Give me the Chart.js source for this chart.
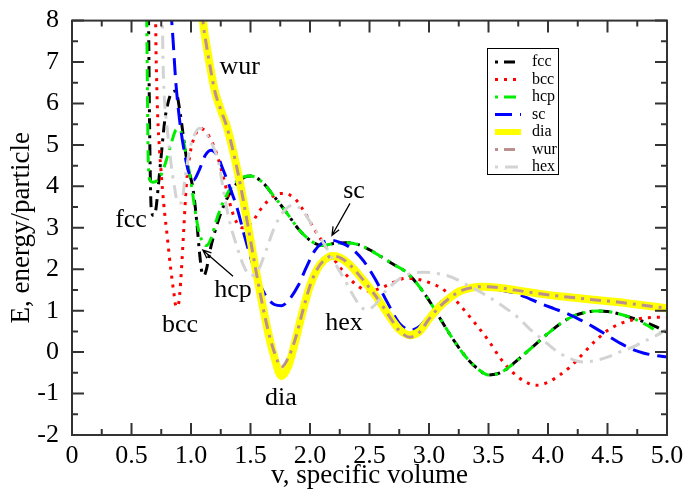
<!DOCTYPE html>
<html>
<head>
<meta charset="utf-8">
<script src="https://cdn.jsdelivr.net/npm/chart.js@4.4.1/dist/chart.umd.min.js"></script>
<style>
  html, body { margin: 0; padding: 0; background: #fff; }
</style>
</head>
<body>
<canvas id="energyChart" width="692" height="491"></canvas>
<script>
// values: v (specific volume) and E (energy/particle)
const vFcc = [0.640, 0.645, 0.650, 0.656, 0.665, 0.685, 0.705, 0.725, 0.75, 0.78, 0.81, 0.84, 0.87, 0.91, 0.95, 0.98, 1.01, 1.03, 1.05, 1.07, 1.09, 1.11, 1.13, 1.16, 1.20, 1.25, 1.31, 1.38, 1.45, 1.50,
              1.6, 1.7, 1.8, 1.9, 2.0, 2.1, 2.2, 2.3, 2.4, 2.5, 2.6, 2.7, 2.8, 2.9, 3.0, 3.1, 3.2, 3.3, 3.4, 3.5, 3.6, 3.7, 3.8, 3.9, 4.0, 4.1, 4.2, 4.3, 4.4, 4.5, 4.6, 4.7, 4.8, 4.9, 5.0];
const eFcc = [9.0, 7.5, 6.0, 4.6, 3.5, 3.3, 3.45, 4.0, 4.75, 5.6, 6.05, 6.27, 6.3, 5.75, 4.9, 4.4, 4.05, 3.65, 3.1, 2.45, 1.95, 1.85, 2.0, 2.45, 2.9, 3.35, 3.75, 4.05, 4.22, 4.25,
              4.1, 3.75, 3.38, 2.98, 2.7, 2.57, 2.62, 2.64, 2.6, 2.47, 2.3, 2.12, 1.95, 1.65, 1.25, 0.78, 0.32, -0.08, -0.38, -0.55, -0.5, -0.3, -0.05, 0.2, 0.45, 0.68, 0.85, 0.95, 0.99, 0.98, 0.92, 0.83, 0.74, 0.62, 0.48];

const vBcc = [0.70, 0.705, 0.712, 0.72, 0.735, 0.75, 0.77, 0.80, 0.83, 0.855, 0.875, 0.89, 0.905, 0.92, 0.94, 0.96, 0.99, 1.03, 1.08, 1.13, 1.18, 1.22, 1.26, 1.30, 1.34, 1.38, 1.43, 1.5, 1.6, 1.7, 1.78, 1.88,
              1.97, 2.05, 2.12, 2.2, 2.3, 2.4, 2.5, 2.6, 2.7, 2.8, 2.9, 3.0, 3.1, 3.2, 3.3, 3.4, 3.5, 3.6, 3.7, 3.8, 3.9, 4.0, 4.1, 4.2, 4.3, 4.4, 4.5, 4.6, 4.7, 4.8, 4.9, 5.0];
const eBcc = [9, 7.5, 6.5, 5.7, 4.9, 4.3, 3.6, 2.8, 2.0, 1.45, 1.1, 1.1, 1.4, 2.0, 3.0, 4.0, 4.75, 5.2, 5.4, 5.3, 5.05, 4.75, 4.35, 3.9, 3.45, 3.15, 3.0, 3.1, 3.5, 3.78, 3.83, 3.68,
              3.3, 2.9, 2.6, 2.25, 1.88, 1.6, 1.47, 1.55, 1.68, 1.78, 1.76, 1.68, 1.55, 1.32, 1.0, 0.65, 0.28, -0.15, -0.48, -0.7, -0.8, -0.73, -0.55, -0.32, -0.02, 0.28, 0.52, 0.68, 0.77, 0.82, 0.84, 0.84];

const vHcp = [0.625, 0.63, 0.635, 0.64, 0.655, 0.68, 0.72, 0.76, 0.80, 0.84, 0.88, 0.91, 0.94, 0.97, 1.0, 1.03, 1.06, 1.09, 1.13, 1.17, 1.21, 1.26, 1.31, 1.36, 1.42, 1.5,
              1.6, 1.7, 1.8, 1.9, 2.0, 2.1, 2.2, 2.3, 2.4, 2.5, 2.6, 2.7, 2.8, 2.9, 3.0, 3.1, 3.2, 3.3, 3.4, 3.5, 3.6, 3.7, 3.8, 3.9, 4.0, 4.1, 4.2, 4.3, 4.4, 4.5, 4.6, 4.7, 4.8, 4.9, 5.0];
const eHcp = [9, 7.5, 6.0, 4.7, 4.15, 4.1, 4.15, 4.35, 4.7, 5.1, 5.38, 5.35, 5.05, 4.6, 4.1, 3.5, 3.0, 2.7, 2.57, 2.75, 3.15, 3.55, 3.85, 4.05, 4.2, 4.25,
              4.1, 3.75, 3.38, 2.98, 2.7, 2.57, 2.62, 2.64, 2.6, 2.47, 2.3, 2.12, 1.95, 1.65, 1.25, 0.78, 0.32, -0.08, -0.38, -0.55, -0.5, -0.3, -0.05, 0.2, 0.45, 0.68, 0.85, 0.95, 0.99, 0.98, 0.92, 0.83, 0.7, 0.53, 0.35];

const vSc = [0.83, 0.85, 0.87, 0.90, 0.94, 0.98, 1.02, 1.07, 1.12, 1.17, 1.22, 1.27, 1.33, 1.39, 1.45, 1.51, 1.57, 1.63, 1.70, 1.76, 1.82, 1.90, 1.97, 2.04, 2.10, 2.18, 2.25,
             2.35, 2.45, 2.55, 2.65, 2.75, 2.85, 2.92, 3.0, 3.1, 3.2, 3.3, 3.4, 3.5, 3.6, 3.74, 3.85, 3.95, 4.05, 4.16, 4.27, 4.38, 4.5, 4.61, 4.7, 4.8, 4.9, 5.0];
const eSc = [8.3, 7.5, 6.6, 5.7, 4.9, 4.35, 4.15, 4.4, 4.75, 4.87, 4.75, 4.4, 3.95, 3.45, 2.8, 2.2, 1.7, 1.35, 1.15, 1.12, 1.25, 1.6, 2.05, 2.45, 2.63, 2.7, 2.65,
             2.5, 2.2, 1.75, 1.2, 0.7, 0.53, 0.62, 0.88, 1.2, 1.42, 1.53, 1.57, 1.57, 1.5, 1.41, 1.28, 1.16, 1.05, 0.93, 0.78, 0.61, 0.4, 0.21, 0.08, -0.02, -0.08, -0.12];

const vDia = [1.09, 1.10, 1.13, 1.16, 1.20, 1.25, 1.30, 1.35, 1.40, 1.45, 1.50, 1.55, 1.60, 1.65, 1.70, 1.76, 1.82, 1.88, 1.94, 2.00, 2.06, 2.12, 2.19,
              2.26, 2.33, 2.40, 2.50, 2.59, 2.67, 2.75, 2.84, 2.92, 3.00, 3.09, 3.18, 3.26, 3.35, 3.45, 3.60, 3.74, 3.95, 4.16, 4.40, 4.58, 4.80, 5.00];
const eDia = [8.4, 8.0, 7.4, 6.9, 6.3, 5.85, 5.45, 4.9, 4.25, 3.5, 2.7, 1.9, 1.15, 0.45, -0.12, -0.58, -0.32, 0.3, 1.0, 1.6, 2.0, 2.22, 2.32,
              2.27, 2.12, 1.9, 1.55, 1.2, 0.85, 0.55, 0.41, 0.5, 0.8, 1.1, 1.32, 1.47, 1.55, 1.58, 1.55, 1.49, 1.4, 1.33, 1.26, 1.21, 1.13, 1.06];

const vWur = [1.09, 1.10, 1.13, 1.16, 1.20, 1.25, 1.30, 1.35, 1.40, 1.45, 1.50, 1.55, 1.60, 1.65, 1.70, 1.76, 1.82, 1.88, 1.94, 2.00, 2.06, 2.12, 2.19,
              2.26, 2.33, 2.40, 2.50, 2.59, 2.67, 2.75, 2.84, 2.92, 3.00, 3.09, 3.18, 3.26, 3.35, 3.45, 3.60, 3.74, 3.95, 4.16, 4.40, 4.58, 4.80, 5.00];
const eWur = [8.4, 8.0, 7.4, 6.9, 6.3, 5.85, 5.45, 4.9, 4.25, 3.5, 2.7, 1.9, 1.15, 0.5, 0.0, -0.36, -0.12, 0.35, 1.0, 1.6, 2.0, 2.22, 2.32,
              2.27, 2.12, 1.9, 1.55, 1.2, 0.85, 0.52, 0.36, 0.48, 0.8, 1.1, 1.32, 1.47, 1.55, 1.58, 1.55, 1.49, 1.4, 1.33, 1.26, 1.21, 1.13, 1.06];

const vHex = [0.755, 0.76, 0.765, 0.775, 0.80, 0.83, 0.86, 0.89, 0.92, 0.95, 0.99, 1.03, 1.07, 1.12, 1.18, 1.23, 1.27, 1.32, 1.38, 1.44, 1.50, 1.56, 1.63, 1.70, 1.78, 1.86, 1.94, 2.02,
              2.10, 2.20, 2.30, 2.40, 2.47, 2.55, 2.62, 2.70, 2.80, 2.95, 3.10, 3.20, 3.30, 3.45, 3.60, 3.75, 3.85, 3.96, 4.06, 4.16, 4.30, 4.40, 4.50, 4.60, 4.72, 4.80, 4.89, 5.00];
const eHex = [8.6, 8.0, 7.0, 6.2, 5.4, 4.6, 4.0, 3.6, 3.6, 4.2, 4.9, 5.25, 5.4, 5.3, 5.0, 4.6, 3.95, 3.2, 2.6, 2.1, 1.85, 1.95, 2.45, 3.0, 3.4, 3.55, 3.4, 3.05,
              2.7, 2.2, 1.7, 1.2, 1.02, 1.15, 1.42, 1.65, 1.85, 1.93, 1.88, 1.8, 1.65, 1.42, 1.15, 0.83, 0.55, 0.29, 0.05, -0.12, -0.24, -0.2, -0.12, 0.0, 0.13, 0.25, 0.37, 0.55];

const xTickValues = [0, 0.5, 1, 1.5, 2, 2.5, 3, 3.5, 4, 4.5, 5];
const yTickValues = [-2, -1, 0, 1, 2, 3, 4, 5, 6, 7, 8];

// text labels placed inside the plot (data coordinates of text centre / baseline)
const noteText = ['fcc', 'bcc', 'hcp', 'sc', 'hex', 'dia', 'wur'];
const noteV = [0.496, 0.908, 1.353, 2.37, 2.286, 1.756, 1.41];
const noteE = [3.01, 0.48, 1.33, 3.71, 0.53, -1.28, 6.7];
// arrows: [v, E] start and tip
const arrowFrom = [[1.353, 1.83], [2.336, 3.59]];
const arrowTo = [[1.10, 2.46], [2.185, 2.82]];

const SERIF = '"Liberation Serif", "DejaVu Serif", serif';

function toPoints(xs, ys) {
    return xs.map((x, i) => ({ x: x, y: ys[i] }));
}

function makeSet(label, xs, ys, color, width, dash, order) {
    return {
        label: label,
        data: toPoints(xs, ys),
        borderColor: color,
        backgroundColor: color,
        borderWidth: width,
        borderDash: dash,
        borderCapStyle: 'butt',
        pointRadius: 0,
        pointHoverRadius: 0,
        fill: false,
        cubicInterpolationMode: 'monotone',
        order: order,
        clip: 0
    };
}

// box, inward ticks on all four sides
const frameTicks = {
    id: 'frameTicks',
    afterDatasetsDraw(chart) {
        const { ctx, chartArea: a, scales: { x, y } } = chart;
        ctx.save();
        ctx.strokeStyle = '#333';
        ctx.lineWidth = 2;
        ctx.beginPath();
        for (let i = 0; i < xTickValues.length; i++) {
            const px = x.getPixelForValue(xTickValues[i]);
            ctx.moveTo(px, a.bottom); ctx.lineTo(px, a.bottom - 12);
            ctx.moveTo(px, a.top); ctx.lineTo(px, a.top + 12);
            if (i < xTickValues.length - 1) {
                const pm = x.getPixelForValue((xTickValues[i] + xTickValues[i + 1]) / 2);
                ctx.moveTo(pm, a.bottom); ctx.lineTo(pm, a.bottom - 6);
                ctx.moveTo(pm, a.top); ctx.lineTo(pm, a.top + 6);
            }
        }
        for (let i = 0; i < yTickValues.length; i++) {
            const py = y.getPixelForValue(yTickValues[i]);
            ctx.moveTo(a.left, py); ctx.lineTo(a.left + 12, py);
            ctx.moveTo(a.right, py); ctx.lineTo(a.right - 12, py);
            if (i < yTickValues.length - 1) {
                const pm = y.getPixelForValue((yTickValues[i] + yTickValues[i + 1]) / 2);
                ctx.moveTo(a.left, pm); ctx.lineTo(a.left + 6, pm);
                ctx.moveTo(a.right, pm); ctx.lineTo(a.right - 6, pm);
            }
        }
        ctx.stroke();
        ctx.strokeRect(a.left, a.top, a.right - a.left, a.bottom - a.top);
        ctx.restore();
    }
};

// curve names and arrows
const curveNotes = {
    id: 'curveNotes',
    afterDraw(chart) {
        const { ctx, scales: { x, y } } = chart;
        ctx.save();
        ctx.fillStyle = '#000';
        ctx.font = '26px ' + SERIF;
        ctx.textAlign = 'center';
        ctx.textBaseline = 'alphabetic';
        noteText.forEach((t, i) => {
            ctx.fillText(t, x.getPixelForValue(noteV[i]), y.getPixelForValue(noteE[i]));
        });
        ctx.strokeStyle = '#000';
        ctx.lineWidth = 1.3;
        arrowFrom.forEach((f, i) => {
            const x0 = x.getPixelForValue(f[0]), y0 = y.getPixelForValue(f[1]);
            const x1 = x.getPixelForValue(arrowTo[i][0]), y1 = y.getPixelForValue(arrowTo[i][1]);
            const ang = Math.atan2(y1 - y0, x1 - x0);
            ctx.beginPath();
            ctx.moveTo(x0, y0); ctx.lineTo(x1, y1);
            ctx.moveTo(x1 - 9 * Math.cos(ang - 0.4), y1 - 9 * Math.sin(ang - 0.4));
            ctx.lineTo(x1, y1);
            ctx.lineTo(x1 - 9 * Math.cos(ang + 0.4), y1 - 9 * Math.sin(ang + 0.4));
            ctx.stroke();
        });
        ctx.restore();
    }
};

// boxed legend in upper right of the plot
const boxLegend = {
    id: 'boxLegend',
    afterDraw(chart) {
        const ctx = chart.ctx;
        const left = 487, top = 48, w = 71, h = 126, rowH = 17.5;
        ctx.save();
        ctx.fillStyle = '#fff';
        ctx.fillRect(left, top, w, h);
        ctx.strokeStyle = '#000';
        ctx.lineWidth = 1;
        ctx.strokeRect(left + 0.5, top + 0.5, w, h);
        ctx.font = '16px ' + SERIF;
        ctx.textBaseline = 'middle';
        ctx.textAlign = 'left';
        chart.data.datasets.forEach((ds, i) => {
            const yy = top + 14 + i * rowH;
            ctx.strokeStyle = ds.borderColor;
            ctx.lineWidth = Math.min(ds.borderWidth, 6);
            ctx.setLineDash(ds.borderDash || []);
            ctx.beginPath();
            ctx.moveTo(left + 8, yy);
            ctx.lineTo(left + 34, yy);
            ctx.stroke();
            ctx.setLineDash([]);
            ctx.fillStyle = '#000';
            ctx.fillText(ds.label, left + 45, yy);
        });
        ctx.restore();
    }
};

const ctx = document.getElementById('energyChart').getContext('2d');
const chart = new Chart(ctx, {
    type: 'line',
    data: {
        datasets: [
            makeSet('fcc', vFcc, eFcc, '#000000', 3, [3, 6, 11, 6], 7),
            makeSet('bcc', vBcc, eBcc, '#ff0000', 3, [3, 6], 6),
            makeSet('hcp', vHcp, eHcp, '#00ee00', 3, [3, 6, 12, 6], 5),
            makeSet('sc', vSc, eSc, '#0000ff', 3, [17, 8], 4),
            makeSet('dia', vDia, eDia, '#ffff00', 8, [], 3),
            makeSet('wur', vWur, eWur, '#bc8f8f', 3, [3, 6, 11, 6], 2),
            makeSet('hex', vHex, eHex, '#d3d3d3', 3, [3, 7, 13, 7], 1)
        ]
    },
    options: {
        responsive: false,
        animation: false,
        events: [],
        layout: { padding: { top: 20, right: 25, left: 0, bottom: 0 } },
        plugins: {
            legend: { display: false },
            tooltip: { enabled: false }
        },
        scales: {
            x: {
                type: 'linear',
                min: 0,
                max: 5,
                afterBuildTicks: (scale) => { scale.ticks = xTickValues.map(v => ({ value: v })); },
                afterFit: (scale) => { scale.height = 56; },
                grid: { display: false },
                border: { display: false },
                ticks: { color: '#000', padding: -2, maxRotation: 0, autoSkip: false, font: { family: SERIF, size: 26 } },
                title: {
                    display: true,
                    text: 'v, specific volume',
                    color: '#000',
                    padding: { top: 0, bottom: 2 },
                    font: { family: SERIF, size: 27, lineHeight: 1 }
                }
            },
            y: {
                type: 'linear',
                min: -2,
                max: 8,
                afterBuildTicks: (scale) => { scale.ticks = yTickValues.map(v => ({ value: v })); },
                afterFit: (scale) => { scale.width = 72; },
                grid: { display: false },
                border: { display: false },
                ticks: { color: '#000', padding: 5, autoSkip: false, font: { family: SERIF, size: 26 } },
                title: {
                    display: true,
                    text: 'E, energy/particle',
                    color: '#000',
                    padding: { top: 8, bottom: 0 },
                    font: { family: SERIF, size: 27, lineHeight: 1 }
                }
            }
        }
    },
    plugins: [frameTicks, curveNotes, boxLegend]
});
</script>
</body>
</html>
